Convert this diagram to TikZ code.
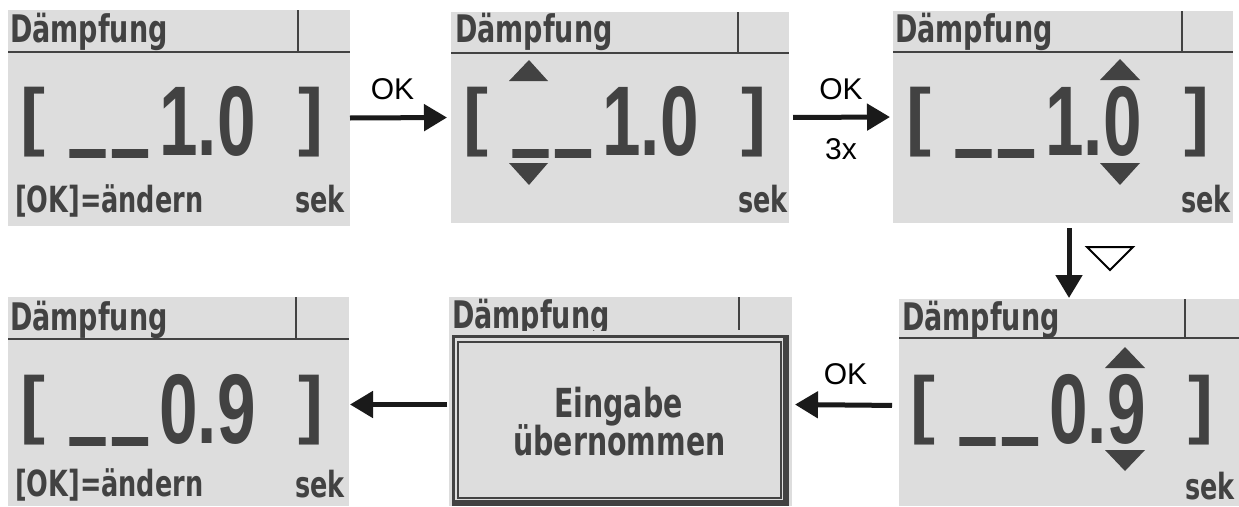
\documentclass[tikz,border=0pt]{standalone}
\usepackage{fontspec}
\setmainfont{Liberation Sans}
\newfontfamily\lcdtxt[FakeStretch=0.71]{DejaVu Sans}
\newfontfamily\bigdig[FakeStretch=0.7]{Liberation Sans}
\newfontfamily\usfont[FakeStretch=0.55,FakeBold=5]{Liberation Sans}
\newfontfamily\bigbr{Liberation Sans}
\usetikzlibrary{arrows.meta}
\definecolor{lcdbg}{RGB}{221,221,221}
\definecolor{lcdfg}{RGB}{66,66,66}
\definecolor{arrowc}{RGB}{26,26,26}
\tikzset{
 panelbg/.style={fill=lcdbg, draw=none, inner sep=0pt, outer sep=0pt},
 lcdline/.style={draw=lcdfg, line width=2pt},
 hdr/.style={font=\lcdtxt\bfseries\fontsize{38}{38}\selectfont, text=lcdfg, inner sep=0pt, anchor=base west},
 small/.style={font=\lcdtxt\bfseries\fontsize{36}{36}\selectfont, text=lcdfg, inner sep=0pt},
 eing/.style={font=\lcdtxt\bfseries\fontsize{40}{40}\selectfont, text=lcdfg, inner sep=0pt, anchor=base},
 digits/.style={font=\bigdig\bfseries\fontsize{99}{99}\selectfont, text=lcdfg, inner sep=0pt, anchor=center},
 brack/.style={font=\bigbr\bfseries\fontsize{75}{75}\selectfont, text=lcdfg, inner sep=0pt, anchor=center},
 uscore/.style={font=\usfont\bfseries\fontsize{99}{99}\selectfont, text=lcdfg, inner sep=0pt, anchor=south},
 tri/.style={fill=lcdfg, draw=none},
 arr/.style={draw=arrowc, line width=5pt, -{Triangle[length=23pt,width=26pt]}},
 lbl/.style={font=\fontsize{30}{30}\selectfont, text=black, inner sep=0pt},
}
\begin{document}
\begin{tikzpicture}[x=1pt,y=-1pt]
\fill[white] (0,0) rectangle (1239,506);
\useasboundingbox (0,0) rectangle (1239,506);

% panel backgrounds
\node[panelbg, minimum width=342pt, minimum height=216pt] (p1) at (179,118) {};
\node[panelbg, minimum width=338pt, minimum height=211pt] (p2) at (620,117.5) {};
\node[panelbg, minimum width=340pt, minimum height=212pt] (p3) at (1063,117) {};
\node[panelbg, minimum width=341pt, minimum height=209pt] (p4) at (178.5,401.5) {};
\node[panelbg, minimum width=343pt, minimum height=209pt] (p5) at (620.5,401.5) {};
\node[panelbg, minimum width=340pt, minimum height=207pt] (p6) at (1069,402.5) {};

% ---------- panel 1
\draw[lcdline] (8,52) -- (350,52);
\draw[lcdline] (298,10) -- (298,52);
\node[hdr] (h1) at (10,42) {Dämpfung};
\node[brack] (lb1) at (32.5,122) {[};
\node[uscore] (u1a) at (87.5,155.5) {\_};
\node[uscore] (u1b) at (130,155.5) {\_};
\node[digits] (d1) at (207.5,121.5) {1.0};
\node[brack] (rb1) at (311,122) {]};
\node[small, anchor=base west] (k1) at (15,212) {[OK]=ändern};
\node[small, anchor=base east] (s1) at (345,212) {sek};

% ---------- panel 2
\draw[lcdline] (451,52.5) -- (789,52.5);
\draw[lcdline] (738,12) -- (738,52.5);
\begin{scope}[shift={(443,0)}]
\node[hdr] (h2) at (12,42) {Dämpfung};
\node[brack] (lb2) at (32.5,122) {[};
\node[uscore] (u2a) at (87.5,155.5) {\_};
\node[uscore] (u2b) at (130,155.5) {\_};
\node[digits] (d2) at (207.5,121.5) {1.0};
\node[brack] (rb2) at (311,122) {]};
\node[small, anchor=base east] (s2) at (345,212) {sek};
\fill[tri] (66,81) -- (86,60) -- (105,81) -- cycle;
\fill[tri] (66,163) -- (86,185) -- (105,163) -- cycle;
\end{scope}

% ---------- panel 3
\draw[lcdline] (893,52) -- (1233,52);
\draw[lcdline] (1182,11) -- (1182,52);
\begin{scope}[shift={(886,0)}]
\node[hdr] (h3) at (9,42) {Dämpfung};
\node[brack] (lb3) at (32.5,122) {[};
\node[uscore] (u3a) at (87.5,155.5) {\_};
\node[uscore] (u3b) at (130,155.5) {\_};
\node[digits] (d3) at (207.5,121.5) {1.0};
\node[brack] (rb3) at (311,122) {]};
\node[small, anchor=base east] (s3) at (345,212) {sek};
\fill[tri] (214,80) -- (234,59) -- (254,80) -- cycle;
\fill[tri] (214,163) -- (234,185) -- (254,163) -- cycle;
\end{scope}

% ---------- panel 4
\draw[lcdline] (8,339) -- (349,339);
\draw[lcdline] (296,297) -- (296,339);
\begin{scope}[shift={(0,288)}]
\node[hdr] (h4) at (10,42) {Dämpfung};
\node[brack] (lb4) at (32.5,122) {[};
\node[uscore] (u4a) at (87.5,155.5) {\_};
\node[uscore] (u4b) at (130,155.5) {\_};
\node[digits] (d4) at (207.5,121.5) {0.9};
\node[brack] (rb4) at (311,122) {]};
\node[small, anchor=base west] (k4) at (15,208) {[OK]=ändern};
\node[small, anchor=base east] (s4) at (345,209) {sek};
\end{scope}

% ---------- panel 5
\begin{scope}
\clip (449,297) rectangle (792,330);
\node[hdr] (h5) at (452,328) {Dämpfung};
\end{scope}
\draw[lcdline] (739,297) -- (739,330);
\draw[draw=lcdfg, line width=3pt] (453.5,336.5) rectangle (785.5,503.5);
\fill[lcdfg] (783,335) rectangle (789,506);
\fill[lcdfg] (452,500) rectangle (789,506);
\draw[draw=lcdfg, line width=2pt] (458,342) rectangle (781,498);
\node[eing] (e1) at (618.5,417) {Eingabe};
\node[eing] (e2) at (619.5,455) {übernommen};

% ---------- panel 6
\draw[lcdline] (899,338) -- (1239,338);
\draw[lcdline] (1185,299) -- (1185,338);
\begin{scope}[shift={(890,288)}]
\node[hdr] (h6) at (12,42) {Dämpfung};
\node[brack] (lb6) at (32.5,122) {[};
\node[uscore] (u6a) at (87.5,155.5) {\_};
\node[uscore] (u6b) at (130,155.5) {\_};
\node[digits] (d6) at (207.5,121.5) {0.9};
\node[brack] (rb6) at (311,122) {]};
\node[small, anchor=base east] (s6) at (345,211) {sek};
\fill[tri] (215,80) -- (235,59) -- (255,80) -- cycle;
\fill[tri] (215,162) -- (235,183) -- (255,162) -- cycle;
\end{scope}

% ---------- arrows
\draw[arr, shorten >=4pt] (p1.east) -- node[lbl, above=15pt, pos=0.42] (lok1) {OK} (p2.west);
\draw[arr, shorten <=4pt, shorten >=3pt] (p2.east) -- node[lbl, above=15pt] (lok2) {OK} node[lbl, below=19pt] (l3x) {3x} (p3.west);
\draw[arr, shorten <=5pt, shorten >=1pt] (p3.south -| p6.north) -- (p6.north);
\draw[draw=black, line width=2pt, line join=miter] (1087,247) -- (1133,247) -- (1110,270) -- cycle;
\draw[arr, shorten <=7pt, shorten >=3pt] ([yshift=-3pt]p6.west) -- node[lbl, above=18pt] (lok3) {OK} ([yshift=-3pt]p5.east);
\draw[arr, shorten <=2pt, shorten >=1pt] ([yshift=-3pt]p5.west) -- ([yshift=-3pt]p4.east);
\end{tikzpicture}
\end{document}
